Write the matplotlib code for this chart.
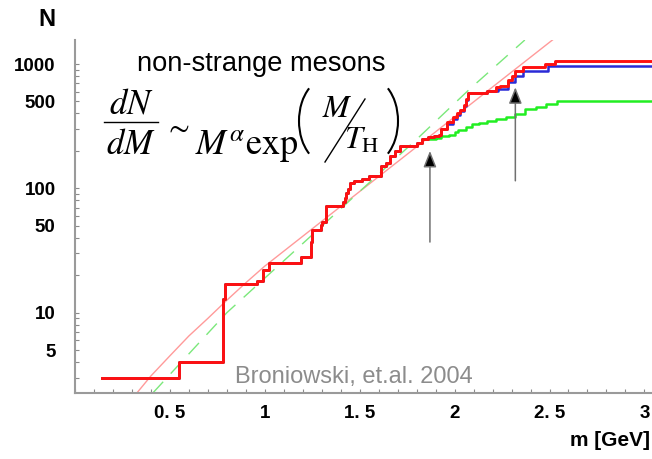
import numpy as np
import matplotlib
matplotlib.use("Agg")
import matplotlib.pyplot as plt
from matplotlib.lines import Line2D
from matplotlib.patches import Arc
from matplotlib.transforms import IdentityTransform

plt.rcParams['font.family'] = ['Liberation Sans', 'DejaVu Sans']
plt.rcParams['mathtext.fontset'] = 'stix'

# cumulative number of states
common_m = [0.14, 0.55, 0.78, 0.79, 0.96, 0.99, 1.02, 1.19, 1.245, 1.25, 1.295, 1.30, 1.32,
            1.41, 1.42, 1.43, 1.44, 1.45, 1.47, 1.51, 1.55, 1.61, 1.64, 1.66, 1.685, 1.71, 1.80]
common_n = [3, 4, 13, 17, 18, 22, 25, 28, 37, 46, 51, 54, 72,
            77, 84, 92, 98, 110, 114, 118, 125, 151, 160, 182, 200, 219, 233]

red_m = common_m + [1.83, 1.86, 1.89, 1.92, 1.93, 1.96, 1.99, 2.01, 2.03, 2.05, 2.06, 2.07,
                    2.17, 2.22, 2.24, 2.28, 2.30, 2.32, 2.36, 2.475, 2.53]
red_n = common_n + [248, 258, 264, 270, 299, 339, 372, 400, 430, 470, 520, 590,
                    608, 650, 668, 740, 805, 884, 940, 1000, 1060]

blue_m = common_m + [1.83, 1.86, 1.89, 1.92, 1.93, 1.96, 1.99, 2.01, 2.03, 2.05, 2.06, 2.07,
                     2.17, 2.23, 2.28, 2.32, 2.36, 2.49]
blue_n = common_n + [248, 258, 264, 270, 299, 330, 360, 390, 420, 460, 510, 590,
                     608, 628, 711, 805, 884, 958]

green_m = common_m + [1.83, 1.90, 1.93, 1.97, 2.00, 2.02, 2.06, 2.09, 2.13, 2.17, 2.22,
                      2.27, 2.32, 2.37, 2.43, 2.48, 2.54]
green_n = common_n + [248, 255, 264, 270, 282, 294, 309, 328, 336, 345, 358,
                      372, 397, 433, 455, 476, 505]

# Hagedorn fit curves
fit_m = [0.33, 0.4, 0.5, 0.6, 0.7, 0.8, 0.9, 1.0, 1.25, 1.5, 1.75, 2.0, 2.25, 2.52]
fit_n = [2.3, 3.1, 4.5, 6.5, 9.0, 12.6, 17.4, 23.7, 47.3, 94.4, 188, 376, 750, 1580]
exp_m = [0.41, 0.8, 1.2, 1.8, 2.08, 2.37]
exp_n = [2.26, 10, 36, 248, 630, 1560]

arrow_m = [1.87, 2.32]
arrow_lo = [37, 115]
arrow_hi = [200, 650]

y_ticks = [5, 10, 50, 100, 500, 1000]
x_ticks = [0.5, 1, 1.5, 2, 2.5, 3]
x_labels = ['0. 5', '1', '1. 5', '2', '2. 5', '3']

W, H = 652, 459
fig = plt.figure(figsize=(W / 100, H / 100), dpi=100)
xmin, xmax = 0.0, 3.04
ax = fig.add_axes([75 / W, (H - 393) / H, 577 / W, 353 / H])
ax.set_xlim(xmin, xmax)
ax.set_yscale('log')
ax.set_ylim(2.26, 1560)

ax.plot(fit_m, fit_n, color='#ff9a9a', lw=1.0, zorder=2)
ax.plot(exp_m, exp_n, color='#7be87b', lw=1.0, dashes=(11, 8), zorder=2)

ax.step(green_m + [xmax], green_n + [green_n[-1]], where='post', color='#22ee22', lw=1.8, zorder=3)
ax.step(blue_m + [xmax], blue_n + [blue_n[-1]], where='post', color='#2a2ad6', lw=1.8, zorder=4)
ax.step(red_m + [xmax], red_n + [red_n[-1]], where='post', color='#ff1010', lw=2.1, zorder=5)

for m, lo, hi in zip(arrow_m, arrow_lo, arrow_hi):
    ax.annotate('', xy=(m, hi), xytext=(m, lo),
                arrowprops=dict(arrowstyle='-|>,head_length=0.55,head_width=0.22',
                                fc='black', ec='#707070', lw=1.1,
                                mutation_scale=18, shrinkA=0, shrinkB=0), zorder=6)

for s in ['top', 'right']:
    ax.spines[s].set_visible(False)
for s in ['left', 'bottom']:
    ax.spines[s].set_color('#9a9a9a')
    ax.spines[s].set_linewidth(1.5)

ax.set_yticks(y_ticks)
ax.set_yticklabels([str(v) for v in y_ticks], fontweight='bold', fontsize=13.5)
ax.yaxis.set_minor_locator(matplotlib.ticker.LogLocator(base=10, subs=np.arange(2, 10)))
ax.yaxis.set_minor_formatter(matplotlib.ticker.NullFormatter())
ax.set_xticks(x_ticks)
ax.set_xticklabels(x_labels, fontweight='bold', fontsize=13.5)
ax.xaxis.set_minor_locator(matplotlib.ticker.MultipleLocator(0.1))
ax.tick_params(which='both', direction='in', color='#8a8a8a', length=3, width=0.8)
ax.tick_params(axis='y', which='both', pad=14)
ax.tick_params(axis='x', which='both', pad=9)


def T(px, py, s, **kw):
    fig.text(px / W, 1 - py / H, s, **kw)


T(47, 20, 'N', fontsize=17, fontweight='bold', ha='center', va='center')
T(650, 441, 'm [GeV]', fontsize=15, fontweight='bold', ha='right', va='center')
T(235, 377, 'Broniowski, et.al. 2004', fontsize=17, color='#8c8c8c', ha='left', va='center')
T(137, 64, 'non-strange mesons', fontsize=19.6, ha='left', va='center')

# formula pieces
T(131, 104, r'$dN$', fontsize=25, ha='center', va='center')
T(131, 144, r'$dM$', fontsize=25, ha='center', va='center')
fig.add_artist(Line2D([104 / W, 158 / W], [1 - 122 / H, 1 - 122 / H], color='k', lw=1.0))
T(177, 128, r'$\sim$', fontsize=22, ha='center', va='center')
T(195, 154, r'$M^{\alpha}\mathrm{exp}$', fontsize=26, ha='left', va='baseline')
# big parentheses as elliptic arcs (pixel coordinates)
fig.add_artist(Arc((328, H - 121), 58, 86, theta1=120, theta2=240, color='k', lw=1.5,
                   transform=IdentityTransform()))
fig.add_artist(Arc((369, H - 121), 58, 86, theta1=-60, theta2=60, color='k', lw=1.5,
                   transform=IdentityTransform()))
T(337, 109, r'$M$', fontsize=23, ha='center', va='center')
fig.add_artist(Line2D([325 / W, 365 / W], [1 - 162 / H, 1 - 99 / H], color='k', lw=1.0))
T(344, 141, r'$T_{\mathrm{H}}$', fontsize=23, ha='left', va='center')

fig.savefig('out.png', dpi=100)
